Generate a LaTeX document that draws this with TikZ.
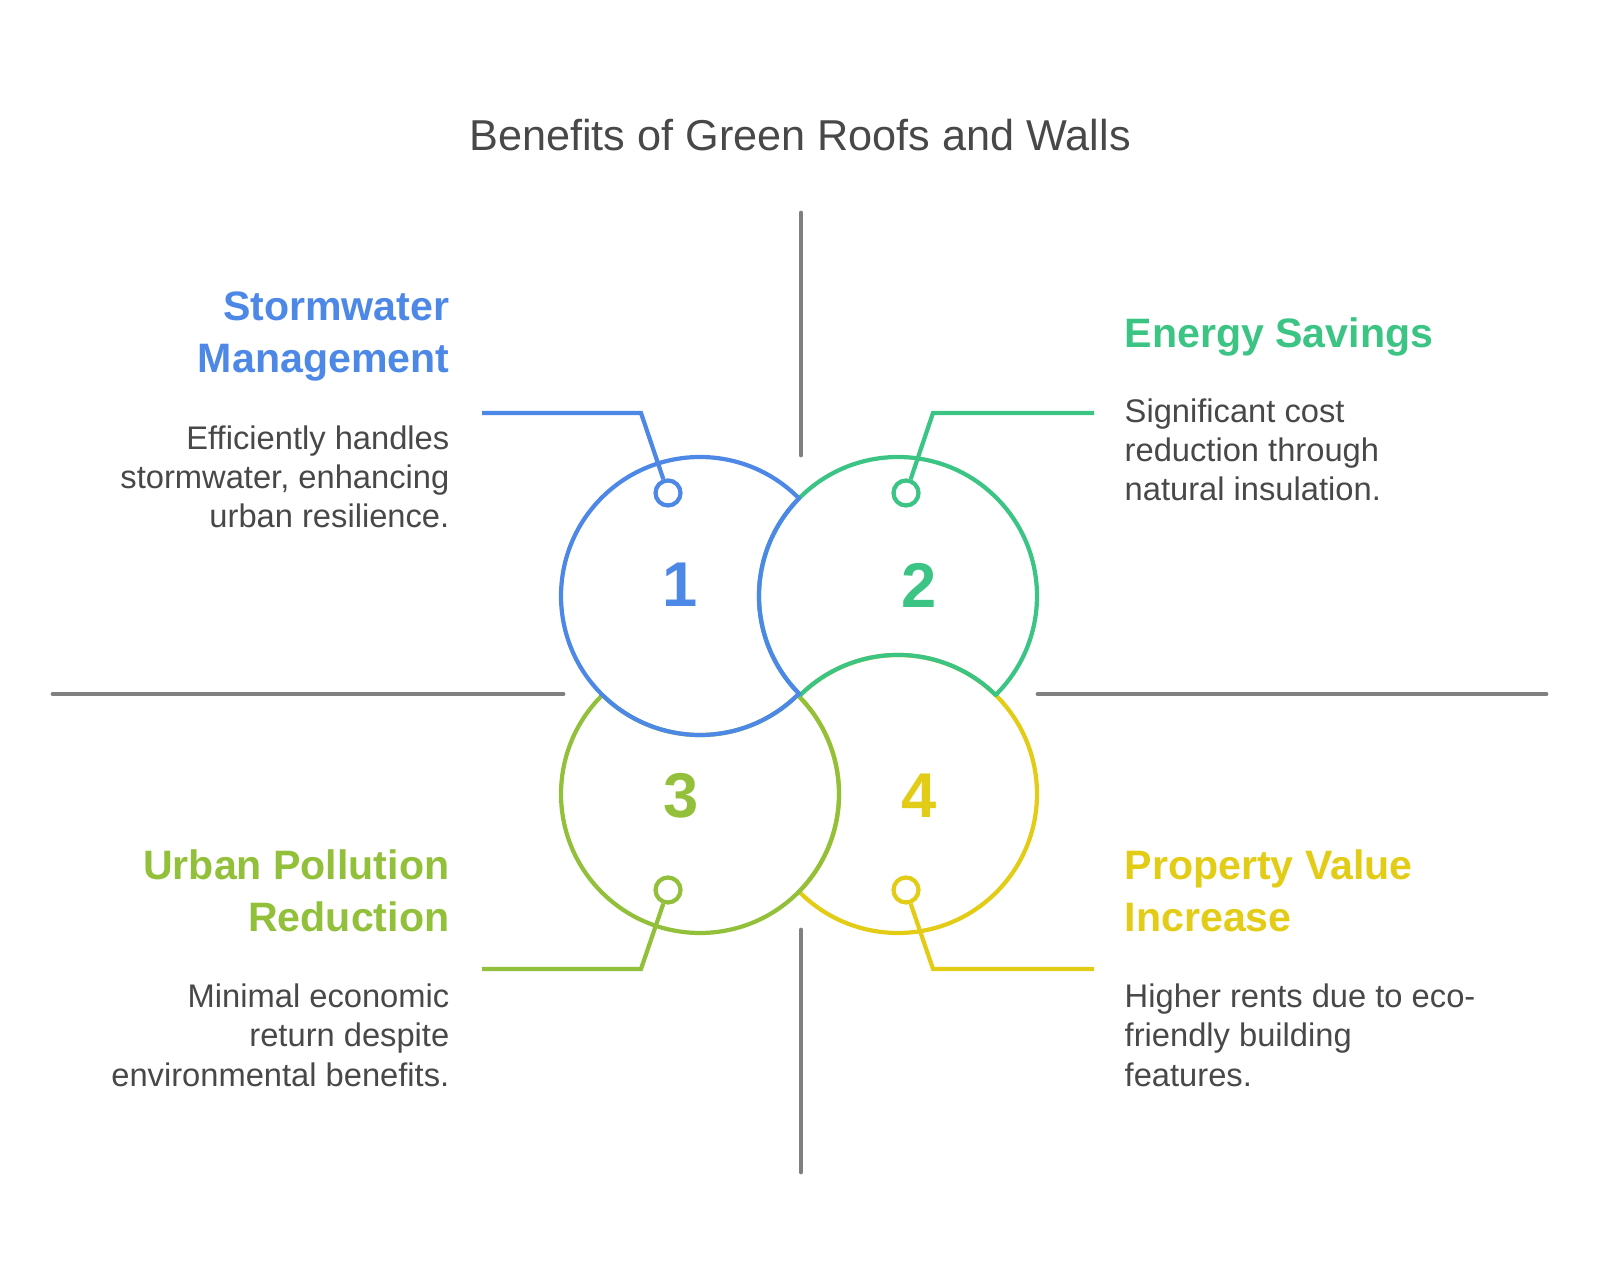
\documentclass[tikz,border=0pt]{standalone}
\usepackage{fontspec}
\setmainfont{Liberation Sans}
\usetikzlibrary{positioning,calc}

\definecolor{stormblue}{RGB}{78,136,231}
\definecolor{energygreen}{RGB}{59,196,132}
\definecolor{pollutionolive}{RGB}{146,192,58}
\definecolor{valueyellow}{RGB}{226,204,22}
\definecolor{axisgray}{RGB}{128,128,128}
\definecolor{textgray}{RGB}{72,72,72}

\begin{document}
\begin{tikzpicture}[
    ring/.style={line width=1.2pt, line join=round},
    pinring/.style={circle, draw, line width=1.2pt, fill=white, minimum size=0.25cm, inner sep=0pt},
    leader/.style={line width=1.2pt},
    axisline/.style={draw=axisgray, line width=1.4pt, line cap=round},
    heading/.style={font=\fontsize{11.7}{14.8}\selectfont\bfseries, inner sep=0pt},
    body/.style={font=\fontsize{9.3}{11.1}\selectfont, text=textgray, inner sep=0pt},
    digit/.style={font=\fontsize{18}{18}\selectfont\bfseries, inner sep=0pt}
  ]
    \useasboundingbox (0,0) rectangle (16,12.79);

    % Title
    \node[font=\fontsize{12.3}{14}\selectfont, text=textgray, anchor=base] (title) at (8.00,11.28) {Benefits of Green Roofs and Walls};

    % Axis lines
    \draw[axisline] (0.53,5.85) -- (5.63,5.85);
    \draw[axisline] (10.38,5.85) -- (15.46,5.85);
    \draw[axisline] (8.01,10.66) -- (8.01,8.24);
    \draw[axisline] (8.01,3.49) -- (8.01,1.07);

    % Circle centres
    \coordinate (c1) at (7.00,6.83);
    \coordinate (c2) at (8.98,6.83);
    \coordinate (c3) at (7.00,4.85);
    \coordinate (c4) at (8.98,4.85);

    % Interlocked rings (4, 3, 2, 1)
    \draw[ring, valueyellow] ($(c4)+(224.6:1.39)$) arc[start angle=224.6, end angle=495.4, radius=1.39]
        arc[start angle=44.6, end angle=-44.6, radius=1.39] -- cycle;
    \draw[ring, pollutionolive] ($(c3)+(134.6:1.39)$) arc[start angle=134.6, end angle=405.4, radius=1.39]
        arc[start angle=-45.4, end angle=-134.6, radius=1.39] -- cycle;
    \draw[ring, energygreen] ($(c2)+(-45.4:1.39)$) arc[start angle=-45.4, end angle=225.4, radius=1.39]
        arc[start angle=134.6, end angle=45.4, radius=1.39] -- cycle;
    \draw[ring, stormblue] ($(c1)+(44.6:1.39)$) arc[start angle=44.6, end angle=315.4, radius=1.39]
        arc[start angle=224.6, end angle=135.4, radius=1.39] -- cycle;

    % Numbers
    \node[digit, text=stormblue] (n1) at (6.80,6.94) {1};
    \node[digit, text=energygreen] (n2) at (9.19,6.94) {2};
    \node[digit, text=pollutionolive] (n3) at (6.81,4.83) {3};
    \node[digit, text=valueyellow] (n4) at (9.19,4.83) {4};

    % Pins and leaders
    \node[pinring, draw=stormblue] (p1) at (6.68,7.86) {};
    \node[pinring, draw=energygreen] (p2) at (9.06,7.86) {};
    \node[pinring, draw=pollutionolive] (p3) at (6.68,3.89) {};
    \node[pinring, draw=valueyellow] (p4) at (9.06,3.89) {};

    \coordinate (k1) at (6.41,8.66);
    \coordinate (e1) at (4.82,8.66);
    \coordinate (k2) at (9.33,8.66);
    \coordinate (e2) at (10.94,8.66);
    \coordinate (k3) at (6.41,3.10);
    \coordinate (e3) at (4.82,3.10);
    \coordinate (k4) at (9.33,3.10);
    \coordinate (e4) at (10.94,3.10);

    \draw[leader, stormblue] (p1) -- (k1) -- (e1);
    \draw[leader, energygreen] (p2) -- (k2) -- (e2);
    \draw[leader, pollutionolive] (p3) -- (k3) -- (e3);
    \draw[leader, valueyellow] (p4) -- (k4) -- (e4);

    % Headings (base = last line)
    \node[heading, text=stormblue, align=right, anchor=base east] (h1) at (4.50,9.06) {Stormwater\\Management};
    \node[heading, text=energygreen, align=left, anchor=base west] (h2) at (11.24,9.31) {Energy Savings};
    \node[heading, text=pollutionolive, align=right, anchor=base east] (h3) at (4.50,3.47) {Urban Pollution\\Reduction};
    \node[heading, text=valueyellow, align=left, anchor=base west] (h4) at (11.24,3.47) {Property Value\\Increase};

    % Descriptions
    \node[body, align=right, anchor=base east] (d1) at (4.50,7.51) {Efficiently handles\\stormwater, enhancing\\urban resilience.};
    \node[body, align=left, anchor=base west] (d2) at (11.24,7.78) {Significant cost\\reduction through\\natural insulation.};
    \node[body, align=right, anchor=base east] (d3) at (4.50,1.93) {Minimal economic\\return despite\\environmental benefits.};
    \node[body, align=left, anchor=base west] (d4) at (11.24,1.93) {Higher rents due to eco-\\friendly building\\features.};
\end{tikzpicture}
\end{document}
